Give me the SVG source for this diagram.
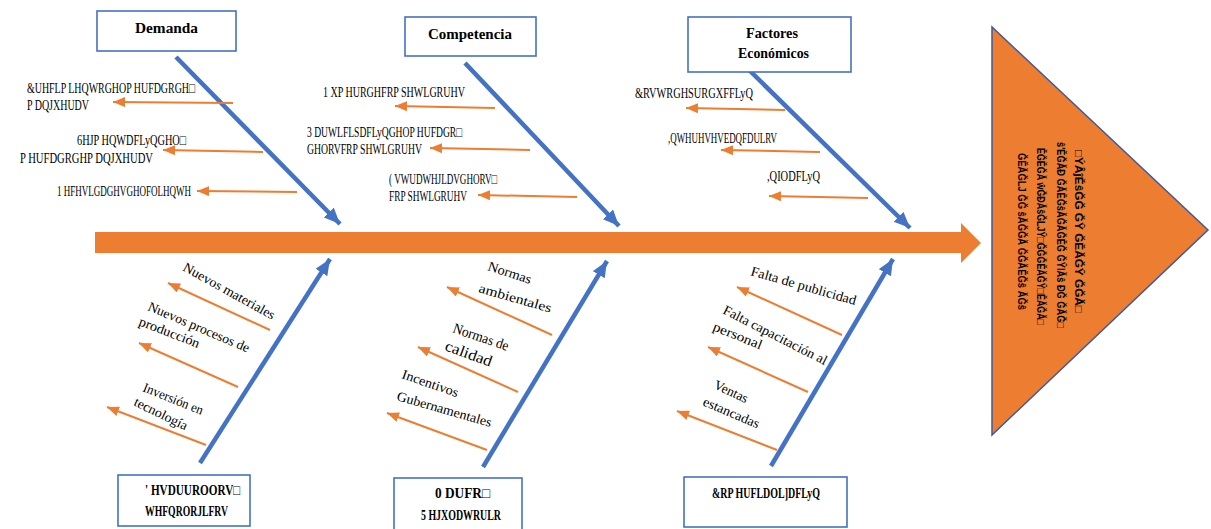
<svg xmlns="http://www.w3.org/2000/svg" width="1211" height="529" viewBox="0 0 1211 529">
<style>
.box{fill:#fff;stroke:#4472C4;stroke-width:1.6}
.hd{font-family:"Liberation Serif",serif;font-weight:bold;font-size:14px;fill:#000}
.gb{font-family:"Liberation Serif",serif;font-size:14px;fill:#000}
.gbb{font-family:"Liberation Serif",serif;font-weight:bold;font-size:14px;fill:#000}
.lb{font-family:"Liberation Serif",serif;font-size:13.5px;fill:#000}
.bone{stroke:#4472C4;stroke-width:4.5;fill:none;marker-end:url(#bh)}
.sub{stroke:#ED7D31;stroke-width:2;fill:none;marker-end:url(#oh)}
.eff{font-family:"Liberation Sans",sans-serif;font-weight:bold;font-size:11px;fill:#000}
</style>
<defs>
<marker id="bh" markerUnits="userSpaceOnUse" markerWidth="18" markerHeight="16" refX="16" refY="7" orient="auto">
<path d="M0,0 L16,7 L0,14 z" fill="#4472C4"/>
</marker>
<marker id="oh" markerUnits="userSpaceOnUse" markerWidth="14" markerHeight="12" refX="12" refY="5" orient="auto">
<path d="M0,0 L12,5 L0,10 z" fill="#ED7D31"/>
</marker>
</defs>

<g id="connectors">
<path d="M95,232 L961,232 L961,223 L981,243 L961,263 L961,253 L95,253 z" fill="#ED7D31"/>
<line class="bone" x1="176" y1="57" x2="340" y2="224"/>
<line class="bone" x1="465" y1="63" x2="619" y2="226"/>
<line class="bone" x1="747" y1="68" x2="910" y2="228"/>
<line class="bone" x1="200" y1="463" x2="330" y2="259"/>
<line class="bone" x1="483" y1="467" x2="607" y2="261"/>
<line class="bone" x1="771" y1="466" x2="893" y2="259"/>
<line class="sub" x1="233" y1="103" x2="113" y2="102"/>
<line class="sub" x1="263" y1="152" x2="163" y2="150"/>
<line class="sub" x1="297" y1="192" x2="197" y2="191"/>
<line class="sub" x1="495" y1="108" x2="395" y2="106"/>
<line class="sub" x1="530" y1="150" x2="430" y2="148"/>
<line class="sub" x1="577" y1="197" x2="478" y2="195"/>
<line class="sub" x1="785" y1="110" x2="686" y2="108"/>
<line class="sub" x1="820" y1="152" x2="721" y2="150"/>
<line class="sub" x1="868" y1="198" x2="769" y2="196"/>
<line class="sub" x1="270" y1="330" x2="168" y2="283"/>
<line class="sub" x1="238" y1="387" x2="139" y2="343"/>
<line class="sub" x1="206" y1="445" x2="107" y2="407"/>
<line class="sub" x1="552" y1="335" x2="447" y2="287"/>
<line class="sub" x1="518" y1="392" x2="418" y2="347"/>
<line class="sub" x1="487" y1="450" x2="387" y2="413"/>
<line class="sub" x1="842" y1="335" x2="737" y2="287"/>
<line class="sub" x1="808" y1="392" x2="708" y2="347"/>
<line class="sub" x1="777" y1="450" x2="677" y2="411"/>
</g>

<g id="effect">
<polygon points="992,27 992,435 1208,230" fill="#ED7D31" stroke="#3F5A9A" stroke-width="1.5"/>
<text class="eff" transform="translate(1075,150) rotate(90)" textLength="163" lengthAdjust="spacingAndGlyphs">□ÝÂĵĚŝĞĞ ĞŶ ĞĚĂĞŶ ĞĞĂ□</text>
<text class="eff" transform="translate(1057,142) rotate(90)" textLength="186" lengthAdjust="spacingAndGlyphs">ŝ'ĚĞĂĐ ĞĂĚĞŝĂĞĂĞĚĞ ĞŶǀĂŝ ĐĞ ĞĂĞ□</text>
<text class="eff" transform="translate(1037,148) rotate(90)" textLength="177" lengthAdjust="spacingAndGlyphs">ĚĞĚĞĂ ŵĞĐĂŝĞǇŶ□ĞĞĞĚĂĞŶ□ĚĂĞĂ□</text>
<text class="eff" transform="translate(1018,153) rotate(90)" textLength="157" lengthAdjust="spacingAndGlyphs">ĞĚĂĞǇ ĞĞ ŝĂĞĞĂ ĞĞĂĚĞŝ ĂĞŝ</text>
</g>

<g id="demanda">
<rect class="box" x="97" y="11" width="139" height="40"/>
<text class="hd" x="135" y="33" textLength="63" lengthAdjust="spacingAndGlyphs">Demanda</text>
<text class="gb" x="27" y="93" textLength="168" lengthAdjust="spacingAndGlyphs">&amp;UHFLP LHQWRGHOP HUFDGRGH□</text>
<text class="gb" x="27" y="110" textLength="62" lengthAdjust="spacingAndGlyphs">P DQJXHUDV</text>
<text class="gb" x="77" y="145" textLength="109" lengthAdjust="spacingAndGlyphs">6HJP HQWDFLyQGHO□</text>
<text class="gb" x="20" y="163" textLength="133" lengthAdjust="spacingAndGlyphs">P HUFDGRGHP DQJXHUDV</text>
<text class="gb" x="57" y="196" textLength="134" lengthAdjust="spacingAndGlyphs">1 HFHVLGDGHVGHOFOLHQWH</text>
</g>

<g id="competencia">
<rect class="box" x="405" y="17" width="131" height="39"/>
<text class="hd" x="428" y="39" textLength="84" lengthAdjust="spacingAndGlyphs">Competencia</text>
<text class="gb" x="323" y="97" textLength="142" lengthAdjust="spacingAndGlyphs">1 XP HURGHFRP SHWLGRUHV</text>
<text class="gb" x="307" y="137" textLength="155" lengthAdjust="spacingAndGlyphs">3 DUWLFLSDFLyQGHOP HUFDGR□</text>
<text class="gb" x="307" y="154" textLength="115" lengthAdjust="spacingAndGlyphs">GHORVFRP SHWLGRUHV</text>
<text class="gb" x="389" y="184" textLength="108" lengthAdjust="spacingAndGlyphs">( VWUDWHJLDVGHORV□</text>
<text class="gb" x="389" y="201" textLength="78" lengthAdjust="spacingAndGlyphs">FRP SHWLGRUHV</text>
</g>

<g id="factores">
<rect class="box" x="688" y="17" width="163" height="55"/>
<text class="hd" x="746" y="38" textLength="52" lengthAdjust="spacingAndGlyphs">Factores</text>
<text class="hd" x="738" y="58" textLength="71" lengthAdjust="spacingAndGlyphs">Económicos</text>
<text class="gb" x="635" y="98" textLength="118" lengthAdjust="spacingAndGlyphs">&amp;RVWRGHSURGXFFLyQ</text>
<text class="gb" x="668" y="143" textLength="109" lengthAdjust="spacingAndGlyphs">,QWHUHVHVEDQFDULRV</text>
<text class="gb" x="767" y="181" textLength="53" lengthAdjust="spacingAndGlyphs">,QIODFLyQ</text>
</g>

<g id="desarrollos">
<rect class="box" x="118" y="475" width="132" height="51"/>
<text class="gbb" x="145" y="495" textLength="95" lengthAdjust="spacingAndGlyphs">' HVDUUROORV□</text>
<text class="gbb" x="145" y="516" textLength="83" lengthAdjust="spacingAndGlyphs">WHFQRORJLFRV</text>
<text class="lb" transform="translate(182,270) rotate(29)" textLength="103" lengthAdjust="spacingAndGlyphs">Nuevos materiales</text>
<text class="lb" transform="translate(147,310) rotate(23)" textLength="109" lengthAdjust="spacingAndGlyphs">Nuevos procesos de</text>
<text class="lb" transform="translate(138,325) rotate(21)" textLength="64" lengthAdjust="spacingAndGlyphs">producción</text>
<text class="lb" transform="translate(142,391) rotate(22)" textLength="64" lengthAdjust="spacingAndGlyphs">Inversión en</text>
<text class="lb" transform="translate(133,405) rotate(26)" textLength="58" lengthAdjust="spacingAndGlyphs">tecnología</text>
</g>

<g id="marco">
<rect class="box" x="394" y="478" width="128" height="52"/>
<text class="gbb" x="435" y="498" textLength="55" lengthAdjust="spacingAndGlyphs">0 DUFR□</text>
<text class="gbb" x="421" y="520" textLength="80" lengthAdjust="spacingAndGlyphs">5 HJXODWRULR</text>
<text class="lb" transform="translate(487,270) rotate(18)" textLength="45" lengthAdjust="spacingAndGlyphs">Normas</text>
<text class="lb" transform="translate(478,292) rotate(16)" textLength="75" lengthAdjust="spacingAndGlyphs">ambientales</text>
<text class="lb" style="font-size:14.5px" transform="translate(452,332) rotate(19)" textLength="58" lengthAdjust="spacingAndGlyphs">Normas de</text>
<text class="lb" style="font-size:15.5px" transform="translate(444,350) rotate(20)" textLength="49" lengthAdjust="spacingAndGlyphs">calidad</text>
<text class="lb" transform="translate(401,378) rotate(19)" textLength="59" lengthAdjust="spacingAndGlyphs">Incentivos</text>
<text class="lb" transform="translate(396,400) rotate(16)" textLength="98" lengthAdjust="spacingAndGlyphs">Gubernamentales</text>
</g>

<g id="comercializacion">
<rect class="box" x="684" y="477" width="163" height="50"/>
<text class="gbb" x="712" y="498" textLength="108" lengthAdjust="spacingAndGlyphs">&amp;RP HUFLDOL]DFLyQ</text>
<text class="lb" transform="translate(750,275) rotate(16)" textLength="109" lengthAdjust="spacingAndGlyphs">Falta de publicidad</text>
<text class="lb" transform="translate(722,313) rotate(27)" textLength="115" lengthAdjust="spacingAndGlyphs">Falta capacitación al</text>
<text class="lb" transform="translate(712,330) rotate(22)" textLength="52" lengthAdjust="spacingAndGlyphs">personal</text>
<text class="lb" transform="translate(713,388) rotate(25)" textLength="36" lengthAdjust="spacingAndGlyphs">Ventas</text>
<text class="lb" transform="translate(702,405) rotate(23)" textLength="60" lengthAdjust="spacingAndGlyphs">estancadas</text>
</g>
</svg>
